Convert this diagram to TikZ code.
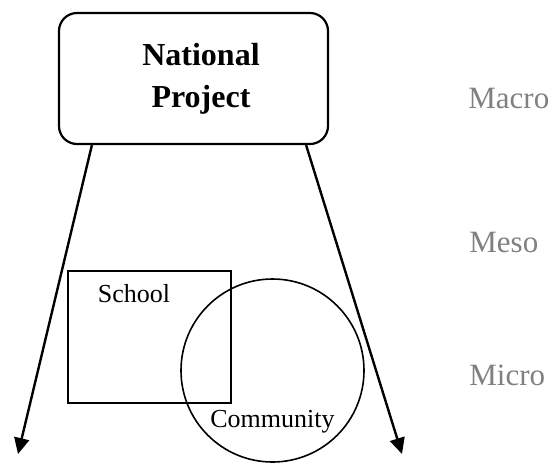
\documentclass[tikz,border=0pt]{standalone}
\usepackage{fontspec}
\setmainfont{Liberation Serif}
\usepackage{xcolor}
\usepackage{tikz}
\usetikzlibrary{positioning,calc,arrows.meta}

\definecolor{levelgray}{HTML}{808080}

\begin{document}
\begin{tikzpicture}[x=0.5pt, y=-0.5pt,
    projbox/.style={draw, line width=1.1pt, rounded corners=9pt,
      minimum width=134.5pt, minimum height=65.5pt},
    projtext/.style={align=center, font=\bfseries\fontsize{16}{21}\selectfont},
    spread/.style={line width=1.2pt, -{Triangle[length=8pt, width=7.5pt]}},
    area/.style={draw, line width=0.8pt, inner sep=0pt},
    tag/.style={font=\fontsize{13}{15}\selectfont, anchor=base},
    level/.style={font=\fontsize{15.5}{18}\selectfont, text=levelgray,
      anchor=base west, inner sep=0pt}]
  \useasboundingbox (0,0) rectangle (552,462);

  % top: national project
  \node[projbox] (np) at (193.5,78.5) {};
  \node[projtext] (nptxt) at (201,78.5) {National\\Project};

  % levels on the right
  \node[level] (macro) at (468,108) {Macro};
  \node[level] (meso) at (469,252) {Meso};
  \node[level] (micro) at (469,385) {Micro};

  % school and community
  \node[area, minimum width=81.5pt, minimum height=66pt] (school) at (149.5,337) {};
  \node[tag] (schooltxt) at (134,302) {School};
  \node[area, circle, minimum size=91.5pt] (comm) at (272.5,370.5) {};
  \node[tag] (commtxt) at (272.5,427) {Community};

  % arrows down from the project
  \coordinate (ltip) at (18,454);
  \coordinate (rtip) at (402,454);
  \draw[spread] ([xshift=17pt]np.south west) -- (ltip);
  \draw[spread] ([xshift=-11.5pt]np.south east) -- (rtip);
\end{tikzpicture}
\end{document}
